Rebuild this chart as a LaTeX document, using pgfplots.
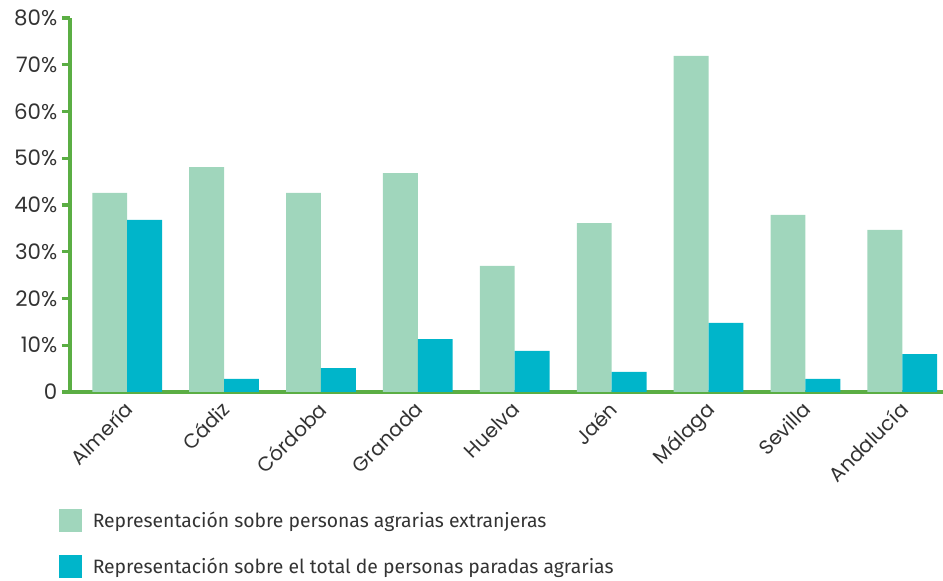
\documentclass[border=0pt]{standalone}
\usepackage{pgfplots}
\pgfplotsset{compat=1.18}
\usepackage{fontspec}
\setmainfont{Poppins}
\newfontfamily\legfont{Fira Sans}
\definecolor{barA}{HTML}{A0D6BC}
\definecolor{barB}{HTML}{00B5CA}
\definecolor{axgreen}{HTML}{5BAE44}
\definecolor{txt}{HTML}{333333}
\begin{document}
\begin{tikzpicture}
\useasboundingbox (0,0) rectangle (707.25pt,435.75pt);
\begin{axis}[
  at={(52.5pt,141.75pt)}, anchor=south west,
  scale only axis, width=654.75pt, height=280.5pt,
  xmin=-0.59, xmax=8.42, ymin=0, ymax=80,
  axis x line=bottom, axis y line=left,
  axis line style={-, draw=axgreen, line width=2.6pt},
  xtick={0,...,8},
  xticklabels={Almería,Cádiz,Córdoba,Granada,Huelva,Jaén,Málaga,Sevilla,Andalucía},
  major x tick style={draw=none},
  extra x ticks={-0.59,0.5,1.5,2.5,3.5,4.5,5.5,6.5,7.5},
  extra x tick labels={},
  extra x tick style={major tick length=6pt, tick style={draw=axgreen, line width=2.6pt}},
  x tick label style={rotate=45, anchor=north east, font=\fontsize{15}{17}\selectfont, text=txt, inner sep=1pt, yshift=3pt, xshift=-1pt},
  ytick={0,10,...,80},
  yticklabels={0,10\%,20\%,30\%,40\%,50\%,60\%,70\%,80\%},
  y tick label style={font=\fontsize{16}{18}\selectfont, text=txt},
  y tick style={draw=axgreen, line width=2.6pt},
  major tick length=6pt,
  tick align=outside,
  clip=false,
  ybar, bar width=0.36, bar shift auto,
  ybar=0pt,
  legend style={at={(-0.017,-0.305)}, anchor=north west, draw=none, fill=none,
    font=\legfont\fontsize{14.5}{16}\selectfont, text=txt, row sep=17.5pt},
  legend cell align=left,
  legend image code/.code={\fill[#1] (0,-8.5pt) rectangle (17pt,8.5pt); \path (23pt,0);},
]
\addplot[fill=barA, draw=none] coordinates {(0,42.6) (1,48.1) (2,42.6) (3,46.8) (4,27.0) (5,36.1) (6,71.9) (7,37.9) (8,34.7)};
\addplot[fill=barB, draw=none] coordinates {(0,36.8) (1,2.8) (2,5.1) (3,11.3) (4,8.8) (5,4.3) (6,14.8) (7,2.8) (8,8.1)};
\legend{Representación sobre personas agrarias extranjeras, Representación sobre el total de personas paradas agrarias}
\end{axis}
\end{tikzpicture}
\end{document}
